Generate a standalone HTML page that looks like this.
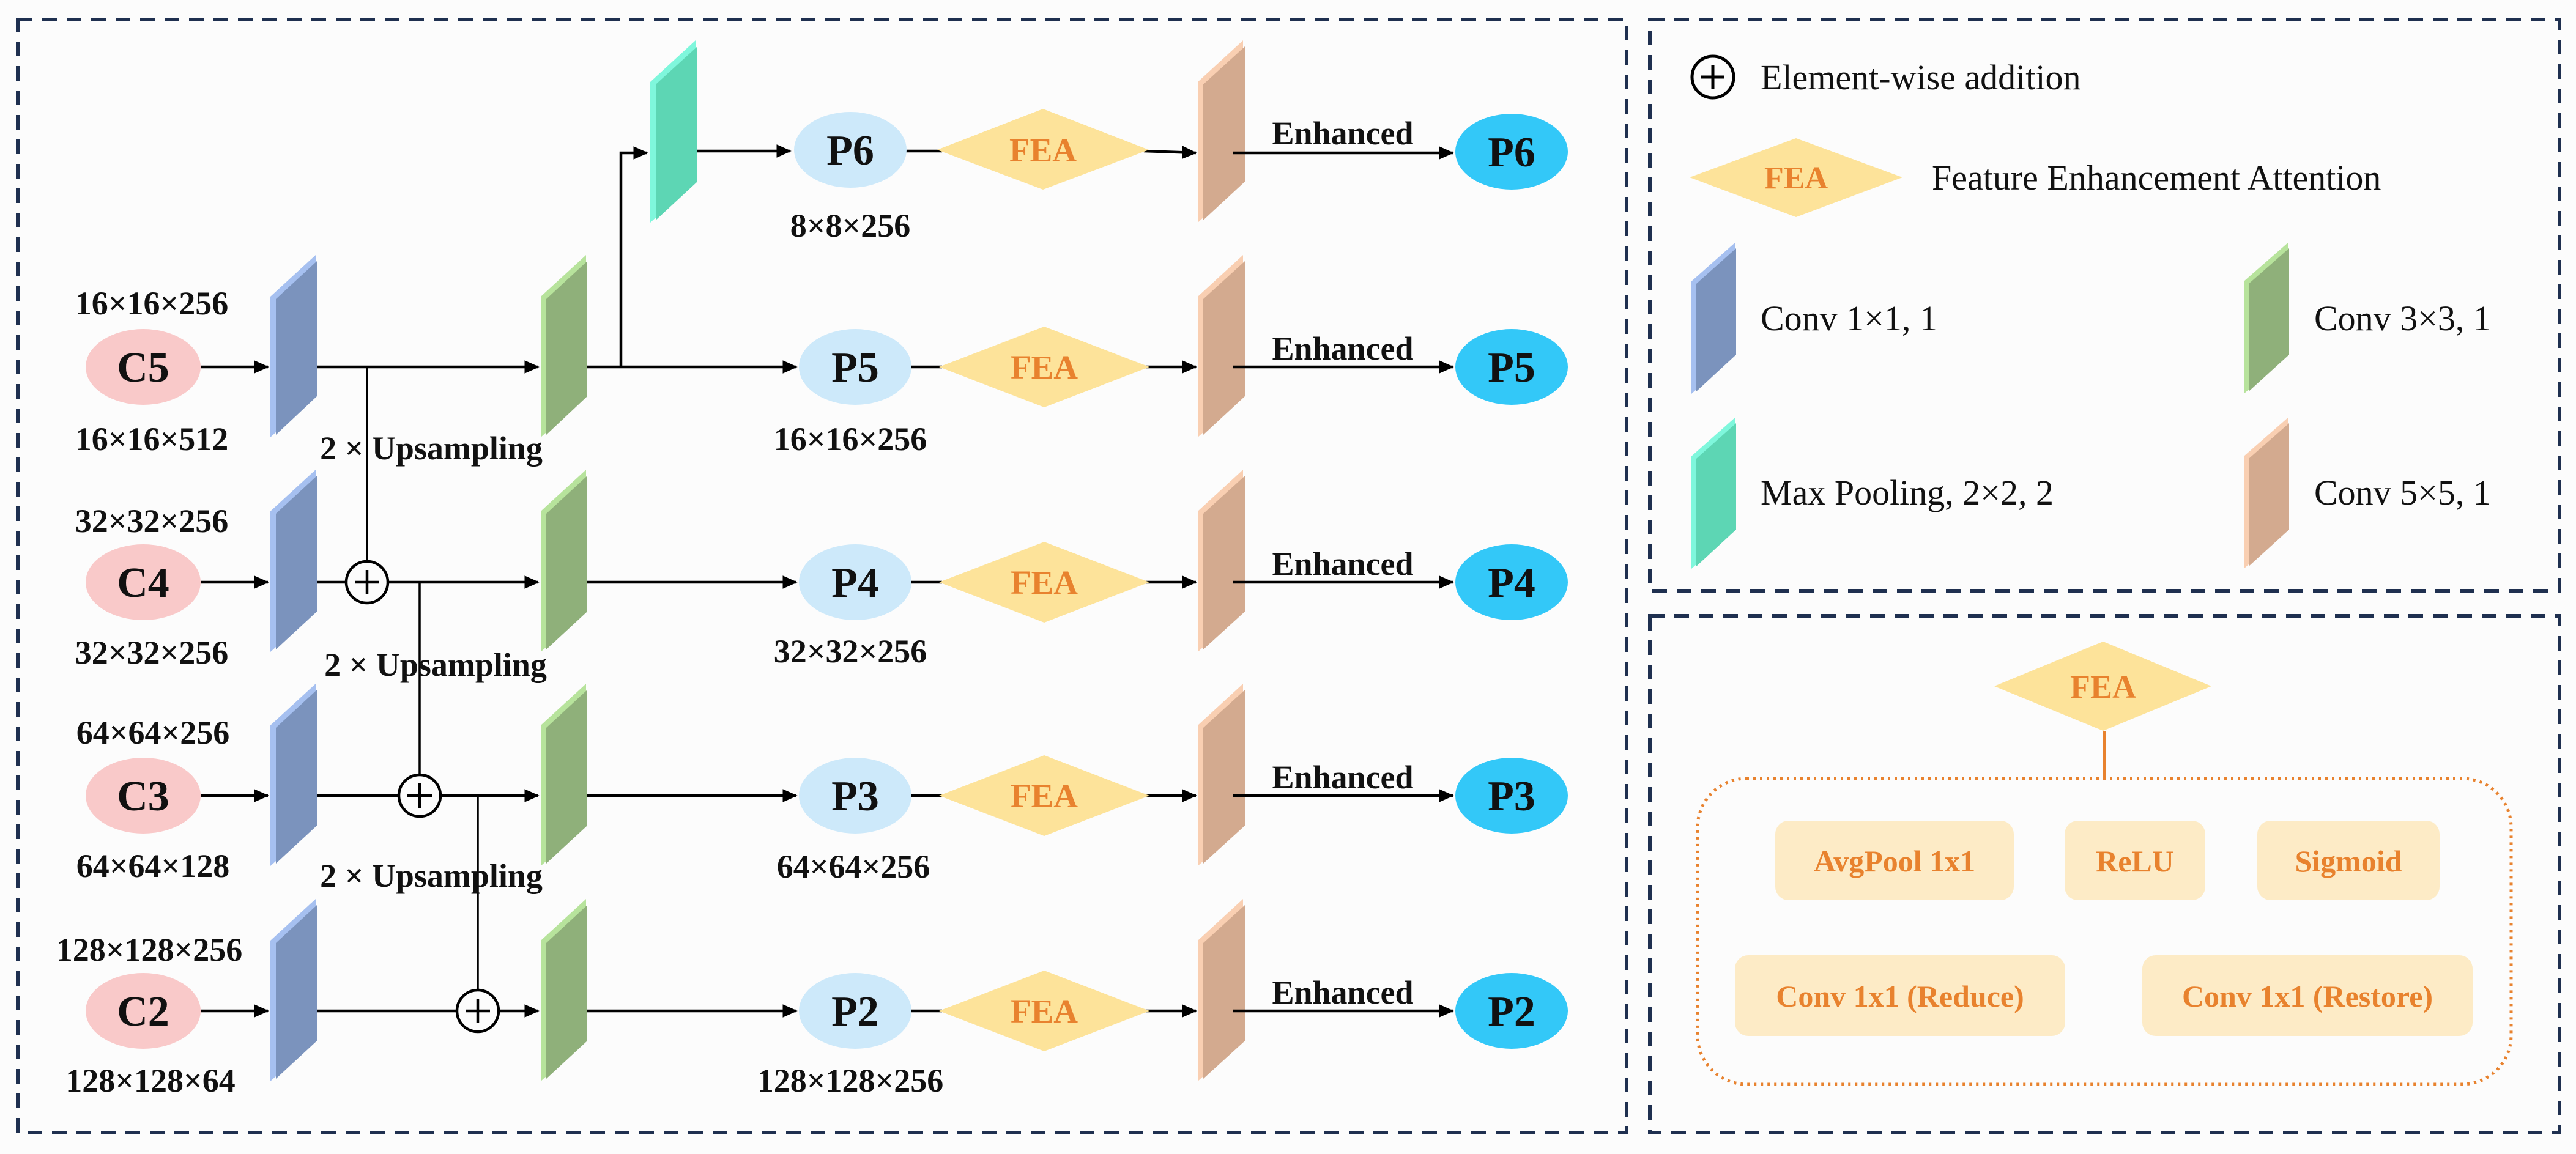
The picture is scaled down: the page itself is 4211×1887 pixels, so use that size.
<!DOCTYPE html>
<html><head><meta charset="utf-8"><style>
html,body{margin:0;padding:0;background:#fcfcfc;}
svg{display:block;}
text{font-family:"Liberation Serif",serif;}
.b{font-weight:bold;fill:#111;}
.o{font-weight:bold;fill:#e8822e;}
</style></head><body>
<svg width="4211" height="1887" viewBox="0 0 4211 1887" xmlns="http://www.w3.org/2000/svg">
<defs>
<marker id="ah" markerWidth="6" markerHeight="6" refX="5" refY="3" orient="auto" markerUnits="strokeWidth">
<path d="M0,0.6 L5.4,3 L0,5.4 z" fill="#000"/>
</marker>
</defs>
<rect width="4211" height="1887" fill="#fcfcfc"/>
<g fill="none" stroke="#1f3050" stroke-width="6" stroke-dasharray="24,16">
<rect x="29" y="32" width="2630" height="1820"/>
<rect x="2697" y="32" width="1487" height="934"/>
<rect x="2697" y="1007" width="1487" height="845"/>
</g>

<g stroke="#000" stroke-width="4.5" fill="none">
<!-- C rows: C to blue -->
<line x1="328" y1="600" x2="438" y2="600" marker-end="url(#ah)"/>
<line x1="328" y1="952" x2="438" y2="952" marker-end="url(#ah)"/>
<line x1="328" y1="1301" x2="438" y2="1301" marker-end="url(#ah)"/>
<line x1="328" y1="1653" x2="438" y2="1653" marker-end="url(#ah)"/>
<!-- blue to green -->
<line x1="483" y1="600" x2="880" y2="600" marker-end="url(#ah)"/>
<line x1="483" y1="952" x2="565" y2="952"/>
<line x1="635" y1="952" x2="880" y2="952" marker-end="url(#ah)"/>
<line x1="483" y1="1301" x2="651" y2="1301"/>
<line x1="721" y1="1301" x2="880" y2="1301" marker-end="url(#ah)"/>
<line x1="483" y1="1653" x2="746" y2="1653"/>
<line x1="816" y1="1653" x2="880" y2="1653" marker-end="url(#ah)"/>
<!-- upsampling verticals -->
<line x1="600" y1="600" x2="600" y2="917" stroke-width="3.5"/>
<line x1="686" y1="952" x2="686" y2="1266" stroke-width="3.5"/>
<line x1="781" y1="1301" x2="781" y2="1618" stroke-width="3.5"/>
<!-- plus circles -->
<circle cx="600" cy="952" r="34"/>
<line x1="580" y1="952" x2="620" y2="952"/><line x1="600" y1="932" x2="600" y2="972"/>
<circle cx="686" cy="1301" r="34"/>
<line x1="666" y1="1301" x2="706" y2="1301"/><line x1="686" y1="1281" x2="686" y2="1321"/>
<circle cx="781" cy="1653" r="34"/>
<line x1="761" y1="1653" x2="801" y2="1653"/><line x1="781" y1="1633" x2="781" y2="1673"/>
<!-- green to P -->
<line x1="935" y1="600" x2="1302" y2="600" marker-end="url(#ah)"/>
<line x1="935" y1="952" x2="1302" y2="952" marker-end="url(#ah)"/>
<line x1="935" y1="1301" x2="1302" y2="1301" marker-end="url(#ah)"/>
<line x1="935" y1="1653" x2="1302" y2="1653" marker-end="url(#ah)"/>
<!-- branch to maxpool -->
<polyline points="1015,600 1015,250 1058,250" marker-end="url(#ah)"/>
<line x1="1112" y1="247" x2="1292" y2="247" marker-end="url(#ah)"/>
</g>

<!-- P6..P2 right part -->
<g id="rows">
</g>

<script>
</script>

<!-- Parallelograms -->
<g>
<!-- blue -->
<polygon points="442,485 516,417 516,648 442,715" fill="#a6c0f0"/><polygon points="451,489 518,427 518,648 451,711" fill="#7b93bd"/>
<polygon points="442,836 516,768 516,1000 442,1066" fill="#a6c0f0"/><polygon points="451,840 518,778 518,1000 451,1062" fill="#7b93bd"/>
<polygon points="442,1186 516,1118 516,1350 442,1416" fill="#a6c0f0"/><polygon points="451,1190 518,1128 518,1350 451,1412" fill="#7b93bd"/>
<polygon points="442,1538 516,1470 516,1702 442,1768" fill="#a6c0f0"/><polygon points="451,1542 518,1480 518,1702 451,1764" fill="#7b93bd"/>
<!-- green -->
<polygon points="884,485 958,417 958,648 884,715" fill="#b7e39c"/><polygon points="893,489 960,427 960,648 893,711" fill="#8fb07a"/>
<polygon points="884,836 958,768 958,1000 884,1066" fill="#b7e39c"/><polygon points="893,840 960,778 960,1000 893,1062" fill="#8fb07a"/>
<polygon points="884,1186 958,1118 958,1350 884,1416" fill="#b7e39c"/><polygon points="893,1190 960,1128 960,1350 893,1412" fill="#8fb07a"/>
<polygon points="884,1538 958,1470 958,1702 884,1768" fill="#b7e39c"/><polygon points="893,1542 960,1480 960,1702 893,1764" fill="#8fb07a"/>
<!-- teal -->
<polygon points="1063,134 1137,66 1137,297 1063,364" fill="#7ff7dc"/><polygon points="1072,138 1140,76 1140,297 1072,360" fill="#5dd6b4"/>
<!-- brown -->
<polygon points="1958,134 2032,66 2032,297 1958,364" fill="#f9cfb2"/><polygon points="1967,138 2035,76 2035,297 1967,360" fill="#d3aa8f"/>
<polygon points="1958,485 2032,417 2032,648 1958,715" fill="#f9cfb2"/><polygon points="1967,489 2035,427 2035,648 1967,711" fill="#d3aa8f"/>
<polygon points="1958,836 2032,768 2032,1000 1958,1066" fill="#f9cfb2"/><polygon points="1967,840 2035,778 2035,1000 1967,1062" fill="#d3aa8f"/>
<polygon points="1958,1186 2032,1118 2032,1350 1958,1416" fill="#f9cfb2"/><polygon points="1967,1190 2035,1128 2035,1350 1967,1412" fill="#d3aa8f"/>
<polygon points="1958,1538 2032,1470 2032,1702 1958,1768" fill="#f9cfb2"/><polygon points="1967,1542 2035,1480 2035,1702 1967,1764" fill="#d3aa8f"/>
</g>

<!-- C ellipses -->
<g fill="#f9c9c9">
<ellipse cx="234" cy="600" rx="94" ry="62"/><ellipse cx="234" cy="952" rx="94" ry="62"/>
<ellipse cx="234" cy="1301" rx="94" ry="62"/><ellipse cx="234" cy="1653" rx="94" ry="62"/>
</g>
<g class="b" font-size="70" text-anchor="middle">
<text x="234" y="624">C5</text><text x="234" y="976">C4</text><text x="234" y="1325">C3</text><text x="234" y="1677">C2</text>
</g>
<g class="b" font-size="54" text-anchor="middle">
<text x="248" y="514">16×16×256</text><text x="248" y="736">16×16×512</text>
<text x="248" y="870">32×32×256</text><text x="248" y="1085">32×32×256</text>
<text x="250" y="1216">64×64×256</text><text x="250" y="1434">64×64×128</text>
<text x="244" y="1571">128×128×256</text><text x="246" y="1785">128×128×64</text>
<text x="705" y="751">2 × Upsampling</text>
<text x="712" y="1105">2 × Upsampling</text>
<text x="705" y="1450">2 × Upsampling</text>
<text x="1390" y="387">8×8×256</text>
<text x="1390" y="736">16×16×256</text>
<text x="1390" y="1083">32×32×256</text>
<text x="1395" y="1435">64×64×256</text>
<text x="1390" y="1785">128×128×256</text>
</g>

<!-- P section rows -->
<g>
<g stroke="#000" stroke-width="4.5" fill="none">
<line x1="1480" y1="247" x2="1540" y2="247"/><line x1="1870" y1="247" x2="1955" y2="250" marker-end="url(#ah)"/><line x1="2016" y1="250" x2="2375" y2="250" marker-end="url(#ah)"/>
<line x1="1480" y1="600" x2="1540" y2="600"/><line x1="1870" y1="600" x2="1955" y2="600" marker-end="url(#ah)"/><line x1="2016" y1="600" x2="2375" y2="600" marker-end="url(#ah)"/>
<line x1="1480" y1="952" x2="1540" y2="952"/><line x1="1870" y1="952" x2="1955" y2="952" marker-end="url(#ah)"/><line x1="2016" y1="952" x2="2375" y2="952" marker-end="url(#ah)"/>
<line x1="1480" y1="1301" x2="1540" y2="1301"/><line x1="1870" y1="1301" x2="1955" y2="1301" marker-end="url(#ah)"/><line x1="2016" y1="1301" x2="2375" y2="1301" marker-end="url(#ah)"/>
<line x1="1480" y1="1653" x2="1540" y2="1653"/><line x1="1870" y1="1653" x2="1955" y2="1653" marker-end="url(#ah)"/><line x1="2016" y1="1653" x2="2375" y2="1653" marker-end="url(#ah)"/>
</g>
<g fill="#cde9fa">
<ellipse cx="1390" cy="245" rx="92" ry="62"/><ellipse cx="1398" cy="600" rx="92" ry="62"/>
<ellipse cx="1398" cy="952" rx="92" ry="62"/><ellipse cx="1398" cy="1301" rx="92" ry="62"/><ellipse cx="1398" cy="1653" rx="92" ry="62"/>
</g>
<g fill="#fde39a">
<polygon points="1532,245 1705,178 1878,245 1705,310"/>
<polygon points="1535,600 1707,534 1879,600 1707,666"/>
<polygon points="1535,952 1707,886 1879,952 1707,1018"/>
<polygon points="1535,1301 1707,1235 1879,1301 1707,1367"/>
<polygon points="1535,1653 1707,1587 1879,1653 1707,1719"/>
</g>
<g fill="#33c8f8">
<ellipse cx="2471" cy="248" rx="92" ry="62"/><ellipse cx="2471" cy="600" rx="92" ry="62"/>
<ellipse cx="2471" cy="952" rx="92" ry="62"/><ellipse cx="2471" cy="1301" rx="92" ry="62"/><ellipse cx="2471" cy="1653" rx="92" ry="62"/>
</g>
<g class="b" font-size="70" text-anchor="middle">
<text x="1390" y="269">P6</text><text x="1398" y="624">P5</text><text x="1398" y="976">P4</text><text x="1398" y="1325">P3</text><text x="1398" y="1677">P2</text>
<text x="2471" y="272">P6</text><text x="2471" y="624">P5</text><text x="2471" y="976">P4</text><text x="2471" y="1325">P3</text><text x="2471" y="1677">P2</text>
</g>
<g class="o" font-size="55" text-anchor="middle">
<text x="1705" y="264">FEA</text><text x="1707" y="619">FEA</text><text x="1707" y="971">FEA</text><text x="1707" y="1320">FEA</text><text x="1707" y="1672">FEA</text>
</g>
<g class="b" font-size="54" text-anchor="middle">
<text x="2195" y="236">Enhanced</text><text x="2195" y="588">Enhanced</text><text x="2195" y="940">Enhanced</text><text x="2195" y="1289">Enhanced</text><text x="2195" y="1641">Enhanced</text>
</g>
</g>

<!-- Legend -->
<g stroke="#000" stroke-width="5" fill="none">
<circle cx="2800" cy="126" r="34"/><line x1="2781" y1="126" x2="2819" y2="126"/><line x1="2800" y1="107" x2="2800" y2="145"/>
</g>
<g font-size="58" fill="#111">
<text x="2878" y="146">Element-wise addition</text>
<text x="3158" y="310">Feature Enhancement Attention</text>
<text x="2878" y="540">Conv 1×1, 1</text>
<text x="3783" y="540">Conv 3×3, 1</text>
<text x="2878" y="825">Max Pooling, 2×2, 2</text>
<text x="3783" y="825">Conv 5×5, 1</text>
</g>
<polygon points="2762,290 2936,226 3110,290 2936,355" fill="#fde39a"/>
<text class="o" font-size="52" x="2936" y="308" text-anchor="middle">FEA</text>
<polygon points="2765,460 2836,397 2836,580 2765,644" fill="#a6c0f0"/><polygon points="2773,464 2838,406 2838,580 2773,640" fill="#7b93bd"/>
<polygon points="3668,460 3740,397 3740,580 3668,644" fill="#b7e39c"/><polygon points="3676,464 3742,406 3742,580 3676,640" fill="#8fb07a"/>
<polygon points="2765,746 2836,683 2836,866 2765,930" fill="#7ff7dc"/><polygon points="2773,750 2838,692 2838,866 2773,926" fill="#5dd6b4"/>
<polygon points="3668,746 3740,683 3740,866 3668,930" fill="#f9cfb2"/><polygon points="3676,750 3742,692 3742,866 3676,926" fill="#d3aa8f"/>

<!-- FEA detail -->
<polygon points="3260,1122 3438,1049 3615,1122 3438,1195" fill="#fde39a"/>
<text class="o" font-size="54" x="3438" y="1141" text-anchor="middle">FEA</text>
<line x1="3440" y1="1195" x2="3440" y2="1273" stroke="#e8822e" stroke-width="5"/>
<rect x="2775" y="1273" width="1330" height="500" rx="80" fill="none" stroke="#e8822e" stroke-width="5" stroke-dasharray="4,7"/>
<g fill="#fdebc6">
<rect x="2902" y="1342" width="390" height="130" rx="22"/>
<rect x="3375" y="1342" width="230" height="130" rx="22"/>
<rect x="3690" y="1342" width="298" height="130" rx="22"/>
<rect x="2836" y="1562" width="540" height="132" rx="22"/>
<rect x="3502" y="1562" width="540" height="132" rx="22"/>
</g>
<g class="o" font-size="50" text-anchor="middle">
<text x="3097" y="1425">AvgPool 1x1</text>
<text x="3490" y="1425">ReLU</text>
<text x="3839" y="1425">Sigmoid</text>
<text x="3106" y="1646">Conv 1x1 (Reduce)</text>
<text x="3772" y="1646">Conv 1x1 (Restore)</text>
</g>
</svg>
</body></html>
